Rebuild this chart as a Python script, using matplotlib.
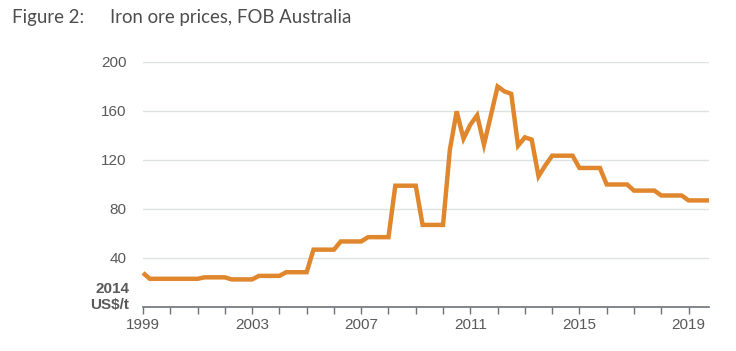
import numpy as np
import matplotlib.pyplot as plt
from matplotlib.ticker import MultipleLocator

plt.rcParams['font.family'] = ['Liberation Sans', 'DejaVu Sans']

# quarterly iron ore price, 2014 US$/t, 1999 Q1 .. 2019 Q4
years = np.arange(1999, 2020)
price = [
    27.8, 23.0, 23.0, 23.0,   # 1999
    23.0, 23.0, 23.0, 23.0,   # 2000
    23.0, 24.2, 24.2, 24.2,   # 2001
    24.2, 22.5, 22.5, 22.5,   # 2002
    22.5, 25.4, 25.4, 25.4,   # 2003
    25.4, 28.4, 28.4, 28.4,   # 2004
    28.4, 46.8, 46.8, 46.8,   # 2005
    46.8, 53.5, 53.5, 53.5,   # 2006
    53.5, 57.0, 57.0, 57.0,   # 2007
    57.0, 99.0, 99.0, 99.0,   # 2008
    99.0, 67.0, 67.0, 67.0,   # 2009
    67.0, 128.4, 159.7, 137.4,  # 2010
    148.8, 156.5, 132.5, 156.0,  # 2011
    180.0, 176.0, 174.0, 131.7,  # 2012
    138.5, 136.6, 106.7, 115.6,  # 2013
    123.5, 123.5, 123.5, 123.5,  # 2014
    113.5, 113.5, 113.5, 113.5,  # 2015
    100.0, 100.0, 100.0, 100.0,  # 2016
    95.0, 95.0, 95.0, 95.0,      # 2017
    91.0, 91.0, 91.0, 91.0,      # 2018
    87.0, 87.0, 87.0, 87.0,      # 2019
]
quarters = np.repeat(years, 4) + np.tile([0, 0.25, 0.5, 0.75], len(years))

y_ticks = [40, 80, 120, 160, 200]
x_labels = [1999, 2003, 2007, 2011, 2015, 2019]

txt = '#595959'
fig = plt.figure(figsize=(7.36, 3.51), dpi=100)
ax = fig.add_axes([0.1943, 0.1254, 0.769, 0.698])

ax.plot(quarters, price, color='#E0862D', lw=3.2, solid_joinstyle='miter',
        solid_capstyle='butt', zorder=3, clip_on=False)

ax.set_xlim(1999, 2019.75)
ax.set_ylim(0, 200)
ax.set_yticks(y_ticks)
ax.yaxis.grid(True, color='#dde1e3', lw=1.0)
ax.set_axisbelow(True)
ax.tick_params(axis='y', length=0, pad=12, labelsize=11, labelcolor=txt)

ax.set_xticks(x_labels)
ax.set_xticklabels([str(v) for v in x_labels])
ax.xaxis.set_minor_locator(MultipleLocator(1))
ax.tick_params(axis='x', which='both', length=5, width=1, color='#6b7278',
               labelsize=11, labelcolor=txt, pad=3)

for s in ['top', 'right', 'left']:
    ax.spines[s].set_visible(False)
ax.spines['bottom'].set_color('#6b7278')
ax.spines['bottom'].set_linewidth(1.2)

fig.text(129 / 736, 1 - 289 / 351, '2014', ha='right', va='center',
         fontsize=11, fontweight='bold', color=txt)
fig.text(129 / 736, 1 - 305 / 351, 'US$/t', ha='right', va='center',
         fontsize=11, fontweight='bold', color=txt)

fig.text(12 / 736, 1 - 18 / 351, 'Figure 2:', ha='left', va='center',
         fontsize=13.4, color='#4d4d4d', fontfamily='Lato')
fig.text(110 / 736, 1 - 18 / 351, 'Iron ore prices, FOB Australia', ha='left',
         va='center', fontsize=13.4, color='#4d4d4d', fontfamily='Lato')

fig.savefig('out.png', dpi=100)
